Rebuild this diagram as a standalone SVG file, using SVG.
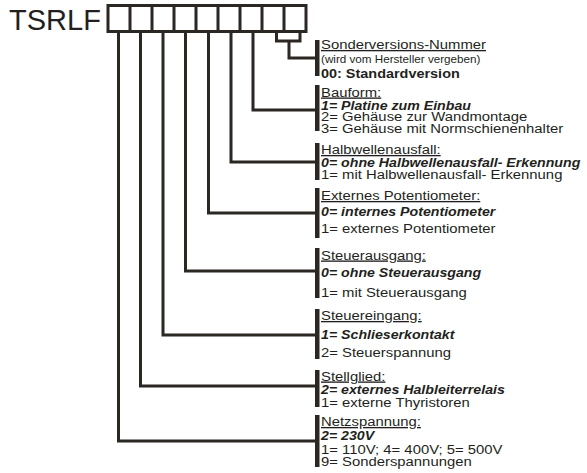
<svg xmlns="http://www.w3.org/2000/svg" width="587" height="473" viewBox="0 0 587 473">
<style>
text{font-family:"Liberation Sans",Arial,sans-serif;font-size:13.5px;fill:#231f20}
.t{text-decoration:underline}
.b{font-weight:bold;font-style:italic}
.bu{font-weight:bold}
.s{font-size:10.8px}
.ln{fill:none;stroke:#2b2723;stroke-width:3;stroke-linecap:square;stroke-linejoin:miter}
.bar{fill:#2b2723}
</style>
<rect width="587" height="473" fill="#ffffff"/>
<g id="code">
<text x="9" y="29.5" style="font-size:29px">TSRLF</text>
<rect class="ln" x="108" y="5.5" width="198" height="26"/>
<path class="ln" d="M130 5.5V31.5M152 5.5V31.5M174 5.5V31.5M196 5.5V31.5M218 5.5V31.5M240 5.5V31.5M262 5.5V31.5M284 5.5V31.5"/>
</g>
<g id="connectors">
<path class="ln" d="M276.5 32V41H300V32M289 41V58H315"/>
<path class="ln" d="M253 33V110H315"/>
<path class="ln" d="M231 33V162H315"/>
<path class="ln" d="M208.5 33V213H315"/>
<path class="ln" d="M185.5 33V271H315"/>
<path class="ln" d="M163 33V335H315"/>
<path class="ln" d="M140.5 33V386H315"/>
<path class="ln" d="M118.5 33V441H315"/>
</g>
<g id="sonder">
<rect class="bar" x="315" y="40" width="4.5" height="36"/>
<text class="t" transform="translate(321 49) scale(1.1 1)">Sonderversions-Nummer</text>
<text class="s" transform="translate(321 63) scale(1.08 1)">(wird vom Hersteller vergeben)</text>
<text class="bu" transform="translate(321 77.5) scale(1.07 1)">00: Standardversion</text>
</g>
<g id="bauform">
<rect class="bar" x="315" y="85" width="4.5" height="46"/>
<text class="t" transform="translate(321 96.5) scale(1.1 1)">Bauform:</text>
<text class="b" transform="translate(321 109.5) scale(1.05 1)">1= Platine zum Einbau</text>
<text transform="translate(321 121) scale(1.1 1)">2= Gehäuse zur Wandmontage</text>
<text transform="translate(321 133) scale(1.1 1)">3= Gehäuse mit Normschienenhalter</text>
</g>
<g id="halbwellen">
<rect class="bar" x="315" y="143" width="4.5" height="37"/>
<text class="t" transform="translate(321 154) scale(1.1 1)">Halbwellenausfall:</text>
<text class="b" transform="translate(321 167) scale(1.05 1)">0= ohne Halbwellenausfall- Erkennung</text>
<text transform="translate(321 179) scale(1.1 1)">1= mit Halbwellenausfall- Erkennung</text>
</g>
<g id="potentiometer">
<rect class="bar" x="315" y="188" width="4.5" height="50"/>
<text class="t" transform="translate(321 200) scale(1.1 1)">Externes Potentiometer:</text>
<text class="b" transform="translate(321 215.5) scale(1.05 1)">0= internes Potentiometer</text>
<text transform="translate(321 232.5) scale(1.1 1)">1= externes Potentiometer</text>
</g>
<g id="steuerausgang">
<rect class="bar" x="315" y="248" width="4.5" height="50"/>
<text class="t" transform="translate(321 259.5) scale(1.1 1)">Steuerausgang:</text>
<text class="b" transform="translate(321 277) scale(1.05 1)">0= ohne Steuerausgang</text>
<text transform="translate(321 296.5) scale(1.1 1)">1= mit Steuerausgang</text>
</g>
<g id="steuereingang">
<rect class="bar" x="315" y="309" width="4.5" height="50"/>
<text class="t" transform="translate(321 320) scale(1.1 1)">Steuereingang:</text>
<text class="b" transform="translate(321 338.5) scale(1.05 1)">1= Schlieserkontakt</text>
<text transform="translate(321 357) scale(1.1 1)">2= Steuerspannung</text>
</g>
<g id="stellglied">
<rect class="bar" x="315" y="370" width="4.5" height="37"/>
<text class="t" transform="translate(321 380.5) scale(1.1 1)">Stellglied:</text>
<text class="b" transform="translate(321 394) scale(1.05 1)">2= externes Halbleiterrelais</text>
<text transform="translate(321 407) scale(1.1 1)">1= externe Thyristoren</text>
</g>
<g id="netzspannung">
<rect class="bar" x="315" y="415" width="4.5" height="52"/>
<text class="t" transform="translate(321 426) scale(1.1 1)">Netzspannung:</text>
<text class="b" transform="translate(321 439.5) scale(1.05 1)">2= 230V</text>
<text transform="translate(321 453.5) scale(1.1 1)">1= 110V; 4= 400V; 5= 500V</text>
<text transform="translate(321 466) scale(1.1 1)">9= Sonderspannungen</text>
</g>
</svg>
